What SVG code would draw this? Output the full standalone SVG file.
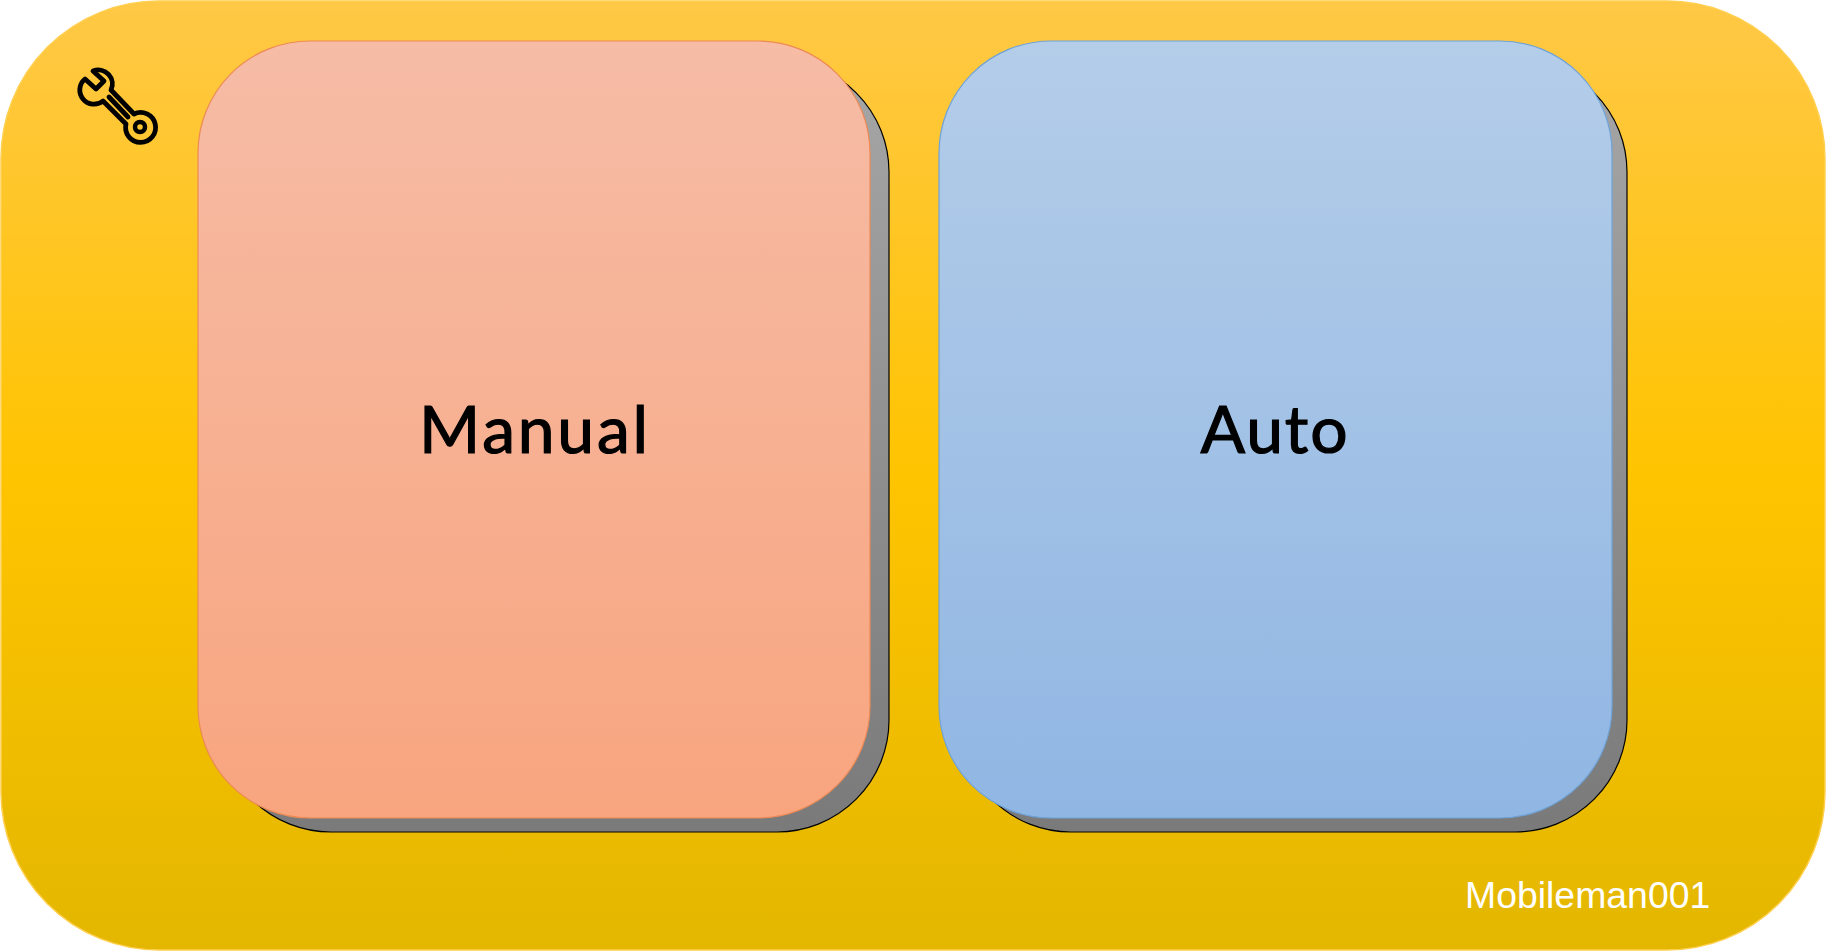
<svg xmlns="http://www.w3.org/2000/svg" width="1827" height="952" viewBox="0 0 1827 952">
<style>
.shadow{stroke:#000;stroke-width:1.2}
.label{font-family:Lato,"Open Sans",sans-serif;font-size:66px;fill:#000;text-anchor:middle;stroke:#000;stroke-width:1.2}
.wm{font-family:"Liberation Sans",Arial,sans-serif;font-size:37.400px;fill:#fff}
.ic{fill:none;stroke:#000;stroke-width:4.800;stroke-linejoin:round;stroke-linecap:round}
</style>
<defs>
<linearGradient id="gO" x1="0" y1="0" x2="0" y2="1"><stop offset="0" stop-color="#FFC846"/><stop offset=".5" stop-color="#FFC400"/><stop offset="1" stop-color="#E3B700"/></linearGradient>
<linearGradient id="gP" x1="0" y1="0" x2="0" y2="1"><stop offset="0" stop-color="#F6BCA6"/><stop offset="1" stop-color="#F8A57F"/></linearGradient>
<linearGradient id="gB" x1="0" y1="0" x2="0" y2="1"><stop offset="0" stop-color="#B4CDE9"/><stop offset="1" stop-color="#90B6E3"/></linearGradient>
<linearGradient id="gS" x1="0" y1="0" x2="0" y2="1"><stop offset="0" stop-color="#A6A6A6"/><stop offset="1" stop-color="#7A7A7A"/></linearGradient>
</defs>
<g id="background"><rect x="1" y="1" width="1824" height="949" rx="158" ry="158" fill="url(#gO)" stroke="#FFCF50" stroke-width="1.5"/></g>
<g id="wrench">
<path class="ic" d="M85 79 L96 89 L104 81 L93 71 A14 14 0 0 1 111 90 L134 114 A15 15 0 1 1 126 124 L103 101 A14 14 0 0 1 85 79 Z"/>
<path class="ic" d="M109 97 L128 117" stroke-width="2"/>
<circle cx="140" cy="127" r="5" fill="none" stroke="#000" stroke-width="4.500"/>
</g>
<g id="manual">
<rect class="shadow" x="219" y="60" width="670" height="772" rx="112" ry="112" fill="url(#gS)"/>
<rect x="198" y="41" width="672" height="777" rx="112" ry="112" fill="url(#gP)" stroke="#ED8A55" stroke-width="1.2"/>
<text class="label" x="535" y="453" letter-spacing="2.800">Manual</text>
</g>
<g id="auto">
<rect class="shadow" x="959" y="60" width="668" height="772" rx="112" ry="112" fill="url(#gS)"/>
<rect x="939" y="41" width="673" height="777" rx="112" ry="112" fill="url(#gB)" stroke="#6FA3D8" stroke-width="1.2"/>
<text class="label" x="1275" y="453" letter-spacing="1.800">Auto</text>
</g>
<g id="connectors"/>
<g id="watermark"><text class="wm" x="1465" y="908">Mobileman001</text></g>
</svg>
